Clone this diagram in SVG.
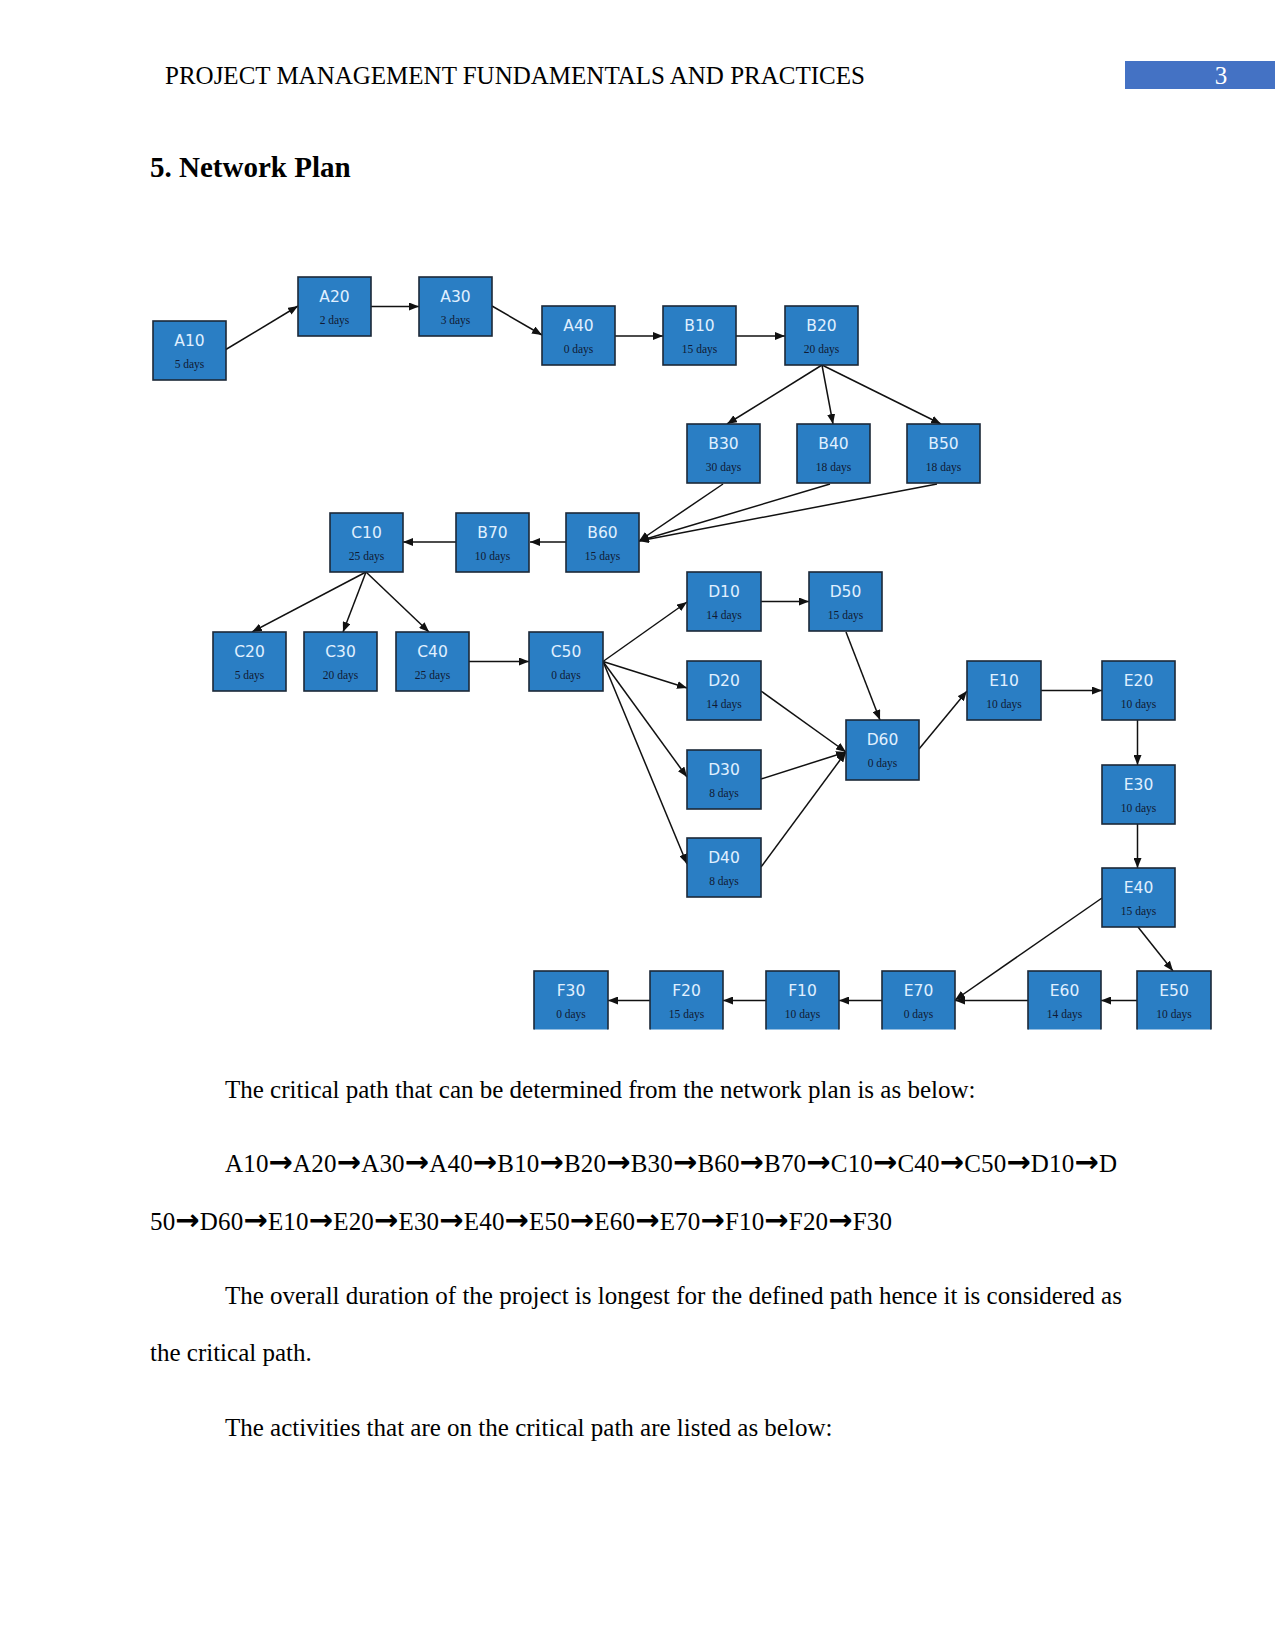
<svg xmlns="http://www.w3.org/2000/svg" width="1275" height="1650" viewBox="0 0 1275 1650">
<defs>
<marker id="ah" markerUnits="userSpaceOnUse" markerWidth="10" markerHeight="8" refX="10" refY="4" orient="auto">
<path d="M0,0 L10,4 L0,8 z" fill="#111"/>
</marker>
<clipPath id="clip"><rect x="0" y="0" width="1213" height="1029.5"/></clipPath>
<style>
.box{fill:#2a7ec4;stroke:#1c2838;stroke-width:1.6}
.t{font-family:"DejaVu Sans",sans-serif;font-size:15.5px;fill:#e0f0ff;text-anchor:middle}
.d{font-family:"Liberation Serif",serif;font-size:11.5px;fill:#101a33;text-anchor:middle}
.c line{stroke:#111;stroke-width:1.5;marker-end:url(#ah)}
.body{font-family:"Liberation Serif",serif;font-size:25px;fill:#000}
.ar{font-family:"DejaVu Sans",sans-serif;font-weight:bold;font-size:29px}
</style>
</defs>
<rect width="1275" height="1650" fill="#fff"/>
<text class="body" x="165" y="84">PROJECT MANAGEMENT FUNDAMENTALS AND PRACTICES</text>
<rect x="1125" y="61" width="150" height="28" fill="#4472c4"/>
<text class="body" x="1221" y="84" style="fill:#fff;text-anchor:middle">3</text>
<text x="150" y="177" style="font-family:'Liberation Serif',serif;font-size:29px;font-weight:bold">5. Network Plan</text>

<g clip-path="url(#clip)">
<g id="connectors" class="c">
<line x1="225" y1="350" x2="298" y2="306"/>
<line x1="371" y1="306.5" x2="419" y2="306.5"/>
<line x1="492" y1="306" x2="542" y2="335"/>
<line x1="615" y1="336" x2="663" y2="336"/>
<line x1="736" y1="336" x2="785" y2="336"/>
<line x1="822" y1="365" x2="727" y2="424"/>
<line x1="822" y1="365" x2="833" y2="424"/>
<line x1="822" y1="365" x2="941" y2="424"/>
<line x1="723" y1="484" x2="639" y2="541"/>
<line x1="830" y1="484" x2="639" y2="541"/>
<line x1="937" y1="484" x2="639" y2="541"/>
<line x1="566" y1="542" x2="530" y2="542"/>
<line x1="456" y1="542" x2="403" y2="542"/>
<line x1="366" y1="572" x2="252" y2="632"/>
<line x1="366" y1="572" x2="343" y2="632"/>
<line x1="366" y1="572" x2="429" y2="632"/>
<line x1="469" y1="661.5" x2="529" y2="661.5"/>
<line x1="603" y1="661.5" x2="687" y2="602"/>
<line x1="603" y1="661.5" x2="687" y2="688"/>
<line x1="603" y1="661.5" x2="687" y2="777"/>
<line x1="603" y1="661.5" x2="687" y2="864"/>
<line x1="761" y1="601.5" x2="809" y2="601.5"/>
<line x1="846" y1="632" x2="880" y2="720"/>
<line x1="761" y1="691" x2="846" y2="752"/>
<line x1="761" y1="779" x2="846" y2="752"/>
<line x1="761" y1="867" x2="846" y2="752"/>
<line x1="919" y1="749" x2="967" y2="691"/>
<line x1="1041" y1="690.5" x2="1102" y2="690.5"/>
<line x1="1137.5" y1="720" x2="1137.5" y2="765"/>
<line x1="1137.5" y1="824" x2="1137.5" y2="868"/>
<line x1="1102" y1="898" x2="955" y2="1000"/>
<line x1="1138" y1="927" x2="1173" y2="971"/>
<line x1="1137" y1="1000.5" x2="1101" y2="1000.5"/>
<line x1="1028" y1="1000.5" x2="955" y2="1000.5"/>
<line x1="882" y1="1000.5" x2="839" y2="1000.5"/>
<line x1="766" y1="1000.5" x2="723" y2="1000.5"/>
<line x1="650" y1="1000.5" x2="608" y2="1000.5"/>
</g>

<g id="A10"><rect class="box" x="153" y="321" width="73" height="59"/><text class="t" x="189.5" y="346">A10</text><text class="d" x="189.5" y="368">5 days</text></g>
<g id="A20"><rect class="box" x="298" y="277" width="73" height="59"/><text class="t" x="334.5" y="302">A20</text><text class="d" x="334.5" y="324">2 days</text></g>
<g id="A30"><rect class="box" x="419" y="277" width="73" height="59"/><text class="t" x="455.5" y="302">A30</text><text class="d" x="455.5" y="324">3 days</text></g>
<g id="A40"><rect class="box" x="542" y="306" width="73" height="59"/><text class="t" x="578.5" y="331">A40</text><text class="d" x="578.5" y="353">0 days</text></g>
<g id="B10"><rect class="box" x="663" y="306" width="73" height="59"/><text class="t" x="699.5" y="331">B10</text><text class="d" x="699.5" y="353">15 days</text></g>
<g id="B20"><rect class="box" x="785" y="306" width="73" height="59"/><text class="t" x="821.5" y="331">B20</text><text class="d" x="821.5" y="353">20 days</text></g>
<g id="B30"><rect class="box" x="687" y="424" width="73" height="59"/><text class="t" x="723.5" y="449">B30</text><text class="d" x="723.5" y="471">30 days</text></g>
<g id="B40"><rect class="box" x="797" y="424" width="73" height="59"/><text class="t" x="833.5" y="449">B40</text><text class="d" x="833.5" y="471">18 days</text></g>
<g id="B50"><rect class="box" x="907" y="424" width="73" height="59"/><text class="t" x="943.5" y="449">B50</text><text class="d" x="943.5" y="471">18 days</text></g>
<g id="B60"><rect class="box" x="566" y="513" width="73" height="59"/><text class="t" x="602.5" y="538">B60</text><text class="d" x="602.5" y="560">15 days</text></g>
<g id="B70"><rect class="box" x="456" y="513" width="73" height="59"/><text class="t" x="492.5" y="538">B70</text><text class="d" x="492.5" y="560">10 days</text></g>
<g id="C10"><rect class="box" x="330" y="513" width="73" height="59"/><text class="t" x="366.5" y="538">C10</text><text class="d" x="366.5" y="560">25 days</text></g>
<g id="C20"><rect class="box" x="213" y="632" width="73" height="59"/><text class="t" x="249.5" y="657">C20</text><text class="d" x="249.5" y="679">5 days</text></g>
<g id="C30"><rect class="box" x="304" y="632" width="73" height="59"/><text class="t" x="340.5" y="657">C30</text><text class="d" x="340.5" y="679">20 days</text></g>
<g id="C40"><rect class="box" x="396" y="632" width="73" height="59"/><text class="t" x="432.5" y="657">C40</text><text class="d" x="432.5" y="679">25 days</text></g>
<g id="C50"><rect class="box" x="529" y="632" width="74" height="59"/><text class="t" x="566" y="657">C50</text><text class="d" x="566" y="679">0 days</text></g>
<g id="D10"><rect class="box" x="687" y="572" width="74" height="59"/><text class="t" x="724" y="597">D10</text><text class="d" x="724" y="619">14 days</text></g>
<g id="D50"><rect class="box" x="809" y="572" width="73" height="59"/><text class="t" x="845.5" y="597">D50</text><text class="d" x="845.5" y="619">15 days</text></g>
<g id="D20"><rect class="box" x="687" y="661" width="74" height="59"/><text class="t" x="724" y="686">D20</text><text class="d" x="724" y="708">14 days</text></g>
<g id="D30"><rect class="box" x="687" y="750" width="74" height="59"/><text class="t" x="724" y="775">D30</text><text class="d" x="724" y="797">8 days</text></g>
<g id="D40"><rect class="box" x="687" y="838" width="74" height="59"/><text class="t" x="724" y="863">D40</text><text class="d" x="724" y="885">8 days</text></g>
<g id="D60"><rect class="box" x="846" y="720" width="73" height="60"/><text class="t" x="882.5" y="745">D60</text><text class="d" x="882.5" y="767">0 days</text></g>
<g id="E10"><rect class="box" x="967" y="661" width="74" height="59"/><text class="t" x="1004" y="686">E10</text><text class="d" x="1004" y="708">10 days</text></g>
<g id="E20"><rect class="box" x="1102" y="661" width="73" height="59"/><text class="t" x="1138.5" y="686">E20</text><text class="d" x="1138.5" y="708">10 days</text></g>
<g id="E30"><rect class="box" x="1102" y="765" width="73" height="59"/><text class="t" x="1138.5" y="790">E30</text><text class="d" x="1138.5" y="812">10 days</text></g>
<g id="E40"><rect class="box" x="1102" y="868" width="73" height="59"/><text class="t" x="1138.5" y="893">E40</text><text class="d" x="1138.5" y="915">15 days</text></g>
<g id="E50"><rect class="box" x="1137" y="971" width="74" height="60"/><text class="t" x="1174" y="996">E50</text><text class="d" x="1174" y="1018">10 days</text></g>
<g id="E60"><rect class="box" x="1028" y="971" width="73" height="60"/><text class="t" x="1064.5" y="996">E60</text><text class="d" x="1064.5" y="1018">14 days</text></g>
<g id="E70"><rect class="box" x="882" y="971" width="73" height="60"/><text class="t" x="918.5" y="996">E70</text><text class="d" x="918.5" y="1018">0 days</text></g>
<g id="F10"><rect class="box" x="766" y="971" width="73" height="60"/><text class="t" x="802.5" y="996">F10</text><text class="d" x="802.5" y="1018">10 days</text></g>
<g id="F20"><rect class="box" x="650" y="971" width="73" height="60"/><text class="t" x="686.5" y="996">F20</text><text class="d" x="686.5" y="1018">15 days</text></g>
<g id="F30"><rect class="box" x="534" y="971" width="74" height="60"/><text class="t" x="571" y="996">F30</text><text class="d" x="571" y="1018">0 days</text></g>
</g>

<text class="body" x="225" y="1098">The critical path that can be determined from the network plan is as below:</text>
<text class="body" x="225" y="1172" textLength="892" lengthAdjust="spacing">A10<tspan class="ar">→</tspan>A20<tspan class="ar">→</tspan>A30<tspan class="ar">→</tspan>A40<tspan class="ar">→</tspan>B10<tspan class="ar">→</tspan>B20<tspan class="ar">→</tspan>B30<tspan class="ar">→</tspan>B60<tspan class="ar">→</tspan>B70<tspan class="ar">→</tspan>C10<tspan class="ar">→</tspan>C40<tspan class="ar">→</tspan>C50<tspan class="ar">→</tspan>D10<tspan class="ar">→</tspan>D</text>
<text class="body" x="150" y="1230" textLength="742" lengthAdjust="spacing">50<tspan class="ar">→</tspan>D60<tspan class="ar">→</tspan>E10<tspan class="ar">→</tspan>E20<tspan class="ar">→</tspan>E30<tspan class="ar">→</tspan>E40<tspan class="ar">→</tspan>E50<tspan class="ar">→</tspan>E60<tspan class="ar">→</tspan>E70<tspan class="ar">→</tspan>F10<tspan class="ar">→</tspan>F20<tspan class="ar">→</tspan>F30</text>
<text class="body" x="225" y="1304">The overall duration of the project is longest for the defined path hence it is considered as</text>
<text class="body" x="150" y="1361">the critical path.</text>
<text class="body" x="225" y="1436">The activities that are on the critical path are listed as below:</text>
</svg>
